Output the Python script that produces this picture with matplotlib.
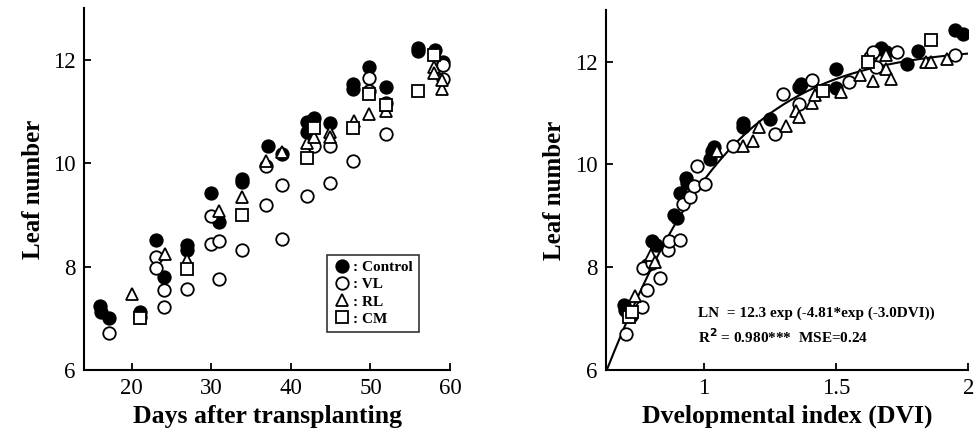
import numpy as np
import matplotlib.pyplot as plt

plt.rcParams['font.family'] = 'Liberation Serif'
plt.rcParams['font.weight'] = 'bold'

# ---- left panel: leaf number vs days after transplanting ----
ctrl_day = [16.0, 16.2, 17.2, 21.0, 21.0, 23.1, 24.1, 27.0, 27.0, 30.0, 31.0, 33.9, 33.9,
            37.1, 38.9, 42.0, 42.0, 42.9, 44.9, 47.8, 47.8, 49.8, 51.9, 56.0, 56.0, 58.1, 59.1]
ctrl_ln = [7.23, 7.13, 7.0, 7.13, 7.03, 8.51, 7.79, 8.41, 8.33, 9.43, 8.86, 9.69, 9.63,
           10.33, 10.18, 10.79, 10.6, 10.87, 10.77, 11.53, 11.43, 11.86, 11.48, 12.23, 12.16, 12.18, 11.95]
vl_day = [17.1, 23.1, 23.0, 24.1, 24.1, 27.0, 30.0, 30.0, 31.0, 31.0, 33.9, 36.9, 36.9, 38.9,
          38.9, 42.0, 42.9, 44.9, 44.9, 47.8, 49.8, 49.8, 51.9, 51.9, 59.1, 59.1]
vl_ln = [6.71, 8.18, 7.97, 7.54, 7.22, 7.56, 8.98, 8.43, 8.49, 7.76, 8.33, 9.2, 9.94, 9.57,
         8.53, 9.36, 10.33, 10.33, 9.61, 10.05, 11.65, 11.4, 11.17, 10.56, 11.89, 11.63]
rl_day = [20.0, 24.2, 27.0, 31.0, 33.9, 36.9, 38.9, 42.0, 42.9, 44.9, 44.9, 47.9, 49.8, 51.9,
          51.9, 58.0, 58.0, 59.0, 59.0]
rl_ln = [7.48, 8.25, 8.12, 9.07, 9.34, 10.05, 10.22, 10.38, 10.51, 10.61, 10.51, 10.81, 10.94,
         11.0, 11.13, 11.86, 11.74, 11.43, 11.6]
cm_day = [21.0, 27.0, 33.9, 42.0, 42.9, 47.8, 49.8, 51.9, 56.0, 58.0]
cm_ln = [7.0, 7.95, 9.0, 10.09, 10.68, 10.68, 11.34, 11.13, 11.40, 12.08]

# ---- right panel: leaf number vs DVI ----
ctrl_dvi = [0.70, 0.705, 0.715, 0.725, 0.786, 0.805, 0.82, 0.89, 0.899, 0.91, 0.934, 0.936,
            1.03, 1.04, 1.025, 1.15, 1.15, 1.25, 1.36, 1.37, 1.5, 1.5, 1.67, 1.69, 1.77, 1.81,
            1.95, 1.98]
ctrl_ln2 = [7.26, 7.17, 7.1, 7.05, 8.05, 8.51, 8.43, 9.02, 8.96, 9.45, 9.74, 9.64,
            10.26, 10.33, 10.1, 10.81, 10.72, 10.88, 11.5, 11.56, 11.86, 11.49, 12.26, 12.18,
            11.95, 12.2, 12.62, 12.54]
vl_dvi = [0.706, 0.767, 0.786, 0.773, 0.834, 0.805, 0.864, 0.868, 0.912, 0.924, 0.95, 0.962,
          0.975, 1.006, 1.11, 1.27, 1.30, 1.36, 1.41, 1.55, 1.63, 1.64, 1.65, 1.73, 1.95]
vl_ln2 = [6.71, 7.23, 7.56, 7.98, 7.79, 8.08, 8.34, 8.51, 8.53, 9.22, 9.36, 9.58,
          9.97, 9.61, 10.35, 10.59, 11.37, 11.17, 11.64, 11.6, 12.08, 12.18, 11.89, 12.18, 12.12]
rl_dvi = [0.74, 0.80, 0.817, 1.05, 1.15, 1.185, 1.21, 1.31, 1.35, 1.36, 1.41, 1.42, 1.52,
          1.59, 1.64, 1.69, 1.69, 1.71, 1.84, 1.86, 1.92]
rl_ln2 = [7.45, 8.24, 8.11, 10.26, 10.36, 10.46, 10.73, 10.75, 11.04, 10.93, 11.2, 11.34, 11.4,
          11.73, 11.63, 12.12, 11.86, 11.66, 11.99, 11.99, 12.05]
cm_dvi = [0.72, 0.73, 1.45, 1.62, 1.86]
cm_ln2 = [7.03, 7.13, 11.43, 12.0, 12.41]

# fitted Gompertz model from the figure
a, b, c = 12.3, 4.81, 3.0

fig = plt.figure(figsize=(9.8, 4.38), dpi=100)
ax1 = fig.add_axes([0.0857, 0.155, 0.3735, 0.827])
ax2 = fig.add_axes([0.618, 0.155, 0.370, 0.822])

ms = 9
mew = 1.3
def draw(ax, x1, y1, x2, y2, x3, y3, x4, y4):
    ax.plot(x1, y1, 'o', ms=ms, mfc='black', mec='black', mew=mew, ls='none', label=': Control')
    ax.plot(x2, y2, 'o', ms=ms, mfc='white', mec='black', mew=mew, ls='none', label=': VL')
    ax.plot(x3, y3, '^', ms=ms, mfc='white', mec='black', mew=mew, ls='none', label=': RL')
    ax.plot(x4, y4, 's', ms=ms - 1, mfc='white', mec='black', mew=mew, ls='none', label=': CM')

draw(ax1, ctrl_day, ctrl_ln, vl_day, vl_ln, rl_day, rl_ln, cm_day, cm_ln)
draw(ax2, ctrl_dvi, ctrl_ln2, vl_dvi, vl_ln2, rl_dvi, rl_ln2, cm_dvi, cm_ln2)

xs = np.linspace(0.63, 2.0, 200)
ax2.plot(xs, a * np.exp(-b * np.exp(-c * xs)), color='black', lw=1.5, zorder=1)

for ax in (ax1, ax2):
    ax.spines['top'].set_visible(False)
    ax.spines['right'].set_visible(False)
    ax.spines['left'].set_linewidth(1.5)
    ax.spines['bottom'].set_linewidth(1.5)
    ax.tick_params(direction='in', length=5, width=1.3, labelsize=16.5, pad=6)
    ax.set_ylim(6, 13)
    ax.set_yticks([6, 8, 10, 12])
    ax.set_ylabel('Leaf number', fontsize=18, fontweight='bold', labelpad=6)
    for lab in ax.get_xticklabels() + ax.get_yticklabels():
        lab.set_fontweight('normal')

ax1.set_xlim(14, 60)
ax1.set_xticks([20, 30, 40, 50, 60])
ax1.set_xlabel('Days after transplanting', fontsize=18.5, fontweight='bold', labelpad=4)

ax2.set_xlim(0.63, 2.0)
ax2.set_xticks([1, 1.5, 2])
ax2.set_xticklabels(['1', '1.5', '2'])
ax2.set_xlabel('Dvelopmental index (DVI)', fontsize=18.5, fontweight='bold', labelpad=4)

leg = ax1.legend(loc='lower right', bbox_to_anchor=(0.935, 0.085), frameon=True, fancybox=False,
                 edgecolor='black', handletextpad=0.1, handlelength=1.2, borderpad=0.4,
                 labelspacing=0.22, prop={'family': 'Liberation Serif', 'weight': 'bold', 'size': 11})
leg.get_frame().set_linewidth(1.2)

ax2.text(0.255, 0.158, 'LN  = 12.3 exp (-4.81*exp (-3.0DVI))', transform=ax2.transAxes,
         fontsize=11, fontweight='bold', va='center')
ax2.text(0.255, 0.094, 'R$^{2}$ = 0.980***  MSE=0.24', transform=ax2.transAxes,
         fontsize=11, fontweight='bold', va='center')

fig.savefig('out.png', dpi=100)
